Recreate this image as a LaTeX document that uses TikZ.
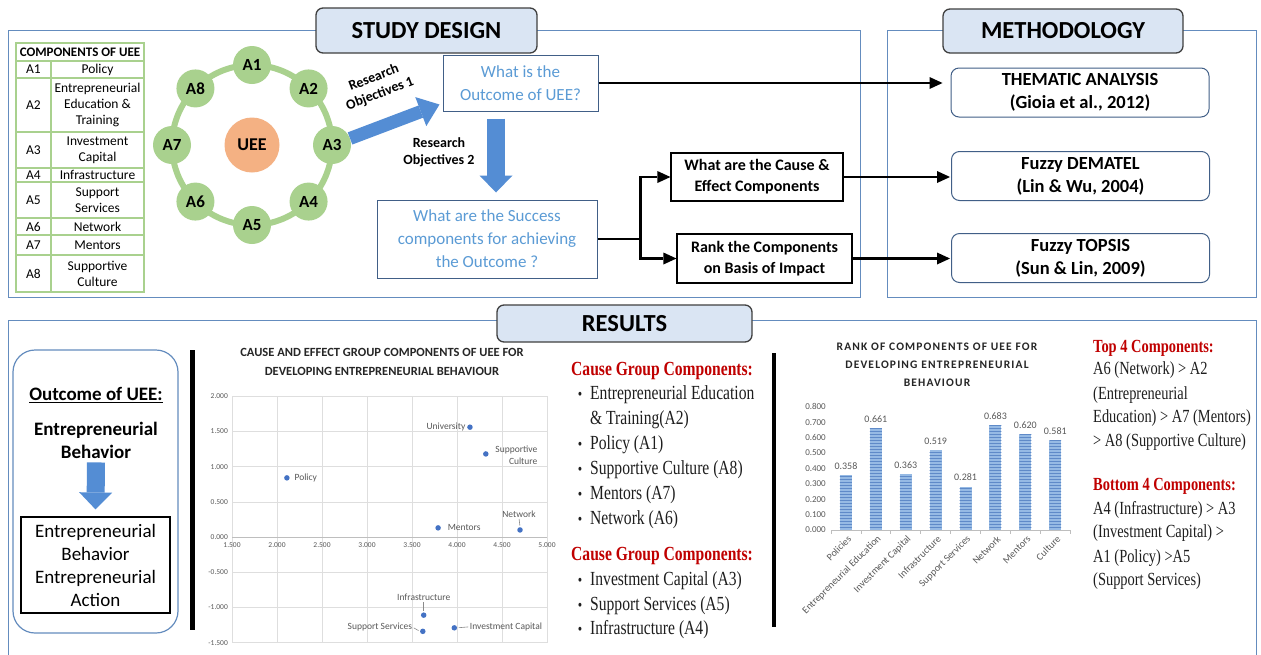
\documentclass[tikz,border=0pt]{standalone}
\usepackage{fontspec}
\setmainfont{Carlito}
\newfontfamily\tnr[FakeStretch=0.78]{Liberation Serif}
\usetikzlibrary{arrows.meta,patterns,calc}

\definecolor{frameblue}{RGB}{100,140,190}
\definecolor{hdrfill}{RGB}{218,229,243}
\definecolor{ringgreen}{RGB}{169,209,142}
\definecolor{ueeorange}{RGB}{244,177,131}
\definecolor{qblue}{RGB}{91,155,213}
\definecolor{boxedge}{RGB}{65,95,135}
\definecolor{arrowblue}{RGB}{84,141,212}
\definecolor{redhead}{RGB}{192,0,0}
\definecolor{gridgray}{RGB}{222,222,222}
\definecolor{axisgray}{RGB}{190,190,190}
\definecolor{ticktext}{RGB}{89,89,89}
\definecolor{ptblue}{RGB}{68,114,196}
\definecolor{barblue}{RGB}{150,186,228}
\definecolor{barline}{RGB}{95,138,200}
\definecolor{bodytext}{RGB}{30,30,30}

\newcommand\setfs[2]{\fontsize{#1}{#2}\selectfont}

\begin{document}
\begin{tikzpicture}[x=1pt,y=-1pt,
  frame/.style={draw=frameblue, line width=1pt},
  hdr/.style={draw=black!75, line width=1.3pt, fill=hdrfill, rounded corners=7pt, inner sep=0pt, font=\bfseries\setfs{24.5}{28}},
  tbl/.style={draw=ringgreen, line width=1.1pt},
  tbltxt/.style={inner sep=0pt, align=center, font=\setfs{13.5}{16}},
  compc/.style={circle, fill=ringgreen, minimum size=38pt, inner sep=0pt, font=\bfseries\setfs{17}{20}},
  ueec/.style={circle, fill=ueeorange, minimum size=55pt, inner sep=0pt, font=\bfseries\setfs{18}{20}},
  qbox/.style={draw=boxedge, line width=1pt, align=center, inner sep=0pt, text=qblue, font=\setfs{17}{23}},
  bbox/.style={draw=black, line width=1.2pt, align=center, inner sep=0pt, font=\bfseries\setfs{16}{21}},
  mbox/.style={draw=boxedge, line width=1pt, rounded corners=8pt, align=center, inner sep=0pt, minimum width=258pt, minimum height=49pt, font=\bfseries\setfs{18.5}{23}},
  rolbl/.style={align=center, inner sep=0pt, font=\bfseries\setfs{14}{17}},
  conn/.style={line width=2.8pt, -{Triangle[length=13pt,width=12pt,line width=0pt]}},
  blockarr/.style={draw=arrowblue, line width=13pt, -{Triangle[length=20pt,width=31pt,line width=0pt]}},
  blockarrv/.style={draw=arrowblue, line width=18pt, -{Triangle[length=17pt,width=33pt,line width=0pt]}},
  gridl/.style={draw=gridgray, line width=0.6pt},
  axisl/.style={draw=axisgray, line width=0.8pt},
  tick/.style={font=\setfs{7.5}{9}, text=ticktext, inner sep=1pt},
  plbl/.style={font=\setfs{9.5}{12}, text=ticktext, inner sep=0.5pt},
  leader/.style={draw=ticktext!70, line width=0.6pt, shorten >=1.5pt, shorten <=1pt},
  pt/.style={circle, fill=ptblue, inner sep=0pt, minimum size=5.5pt},
  ctitle/.style={align=center, inner sep=0pt, font=\bfseries\setfs{12.5}{19}, text=black!85},
  tnrhead/.style={anchor=base west, inner sep=0pt, text=redhead, font=\tnr\bfseries\setfs{20}{24}},
  tnritem/.style={anchor=base west, inner sep=0pt, text=bodytext, font=\tnr\setfs{20}{24}},
  tnrhead2/.style={anchor=base west, inner sep=0pt, text=redhead, font=\tnr\bfseries\setfs{18.5}{22}},
  tnritem2/.style={anchor=base west, inner sep=0pt, text=bodytext, font=\tnr\setfs{18.5}{22}},
  bul/.style={anchor=base, inner sep=0pt, text=bodytext, font=\tnr\setfs{16}{20}}
]
\useasboundingbox (0,0) rectangle (1261,654);
\fill[white] (0,0) rectangle (1261,654);

% ---------- section frames ----------
\draw[frame] (8,30) rectangle (860,297);
\draw[frame] (887,30) rectangle (1256,297);
\draw[frame] (8,660) -- (8,320) -- (1256,320) -- (1256,660);

\node[hdr, minimum width=221pt, minimum height=45pt] (hsd) at (426.5,30.5) {STUDY DESIGN};
\node[hdr, minimum width=240pt, minimum height=44pt] (hmeth) at (1063,31) {METHODOLOGY};
\node[hdr, minimum width=255pt, minimum height=37pt] (hres) at (624.5,323.5) {RESULTS};

% ---------- components table ----------
\draw[tbl] (16,43) rectangle (144,292);
\foreach \yy in {61,78,132,168,182,218,235,255} \draw[tbl] (16,\yy) -- (144,\yy);
\draw[tbl] (51,61) -- (51,292);
\node[inner sep=0pt, font=\bfseries\setfs{13}{15}] (thead) at (80,52) {COMPONENTS OF UEE};
\foreach \id/\name/\ta/\tb in {A1/Policy/61/78, A2/{Entrepreneurial\\Education \&\\Training}/78/132,
    A3/{Investment\\Capital}/132/168, A4/Infrastructure/168/182, A5/{Support\\Services}/182/218,
    A6/Network/218/235, A7/Mentors/235/255, A8/{Supportive\\Culture}/255/292}{
  \node[tbltxt] (id\id) at (33.5,{(\ta+\tb)/2}) {\id};
  \node[tbltxt] (nm\id) at (97.5,{(\ta+\tb)/2}) {\name};
}

% ---------- UEE ring ----------
\node[ueec] (uee) at (252,145) {UEE};
\draw[ringgreen, line width=6pt] (uee.center) circle[radius=80];
\foreach \i in {1,...,8}
  \node[compc] (a\i) at ({252+80*cos(90-45*(\i-1))},{145-80*sin(90-45*(\i-1))}) {A\i};

% ---------- research questions ----------
\node[qbox, minimum width=155pt, minimum height=56pt] (outq) at (520.5,83) {What is the\\Outcome of UEE?};
\node[qbox, minimum width=220pt, minimum height=78pt] (succ) at (487,239) {What are the Success\\components for achieving\\the Outcome ?};
\node[bbox, minimum width=172pt, minimum height=48pt] (cause) at (757,177) {What are the Cause \&\\Effect Components};
\node[bbox, minimum width=175pt, minimum height=49pt] (rank) at (764.5,258.5) {Rank the Components\\on Basis of Impact};

\draw[blockarr] (a3.20) -- ($(outq.south west)+(-3,-7)$);
\node[rolbl, rotate=21] (ro1) at (377,86) {Research\\Objectives 1};
\draw[blockarrv] ($(outq.south)+(-24.5,7)$) -- ($(succ.north)+(9,-7)$);
\node[rolbl] (ro2) at (439,152) {Research\\Objectives 2};

% ---------- methodology ----------
\node[mbox] (them) at (1080,92.5) {THEMATIC ANALYSIS\\(Gioia et al., 2012)};
\node[mbox] (dema) at (1080.5,176) {Fuzzy DEMATEL\\(Lin \& Wu, 2004)};
\node[mbox] (tops) at (1080.5,258) {Fuzzy TOPSIS\\(Sun \& Lin, 2009)};

\draw[conn, shorten >=8pt] (outq.east) -- (outq.east -| them.west);
\draw[line width=2.8pt] (succ.east) -- ++(43,0) coordinate (br);
\draw[conn] (br) |- (cause.west);
\draw[conn] (br) |- (rank.west);
\draw[conn, shorten >=1pt] (cause.east) -- (cause.east -| dema.west);
\draw[conn, shorten >=1pt] (rank.east) -- (rank.east -| tops.west);

% ---------- results: outcome panel ----------
\node[draw=frameblue, line width=1.2pt, rounded corners=22pt, minimum width=165pt, minimum height=283pt] (outbox) at (95.5,491.5) {};
\node[inner sep=0pt, font=\bfseries\setfs{19}{22}] (outttl) at (96,395) {\underline{Outcome of UEE:}};
\node[inner sep=0pt, align=center, font=\bfseries\setfs{19}{23}] (beh) at (96,440) {Entrepreneurial\\Behavior};
\node[draw=black, line width=1.2pt, minimum width=149pt, minimum height=96pt, align=center, inner sep=0pt, font=\setfs{19}{23}] (acts) at (95.5,565) {Entrepreneurial\\Behavior\\Entrepreneurial\\Action};
\draw[blockarrv] ($(beh.south)+(0,4)$) -- ($(acts.north)+(0,-7)$);

% separators
\draw[line width=4.5pt] (192.5,350) -- (192.5,630);
\draw[line width=4.5pt] (774,353) -- (774,627);

% ---------- cause/effect scatter ----------
\node[ctitle] (sctitle) at (382,362) {CAUSE AND EFFECT GROUP COMPONENTS OF UEE FOR\\DEVELOPING ENTREPRENEURIAL BEHAVIOUR};
\begin{scope}[shift={(232,537)}, x=90pt, y=70.4pt]
  \foreach \v in {-1.5,-1,...,2} \draw[gridl] (0,\v) -- (3.5,\v);
  \foreach \u in {0,0.5,...,3.5} \draw[gridl] (\u,-1.5) -- (\u,2);
  \draw[axisl] (0,0) -- (3.5,0);
  \foreach \v/\t [count=\k] in {2/2.000,1.5/1.500,1/1.000,0.5/0.500,0/0.000,-0.5/-0.500,-1/-1.000,-1.5/-1.500}
    \node[tick, anchor=east] (yt\k) at ([xshift=-3pt]0,\v) {\t};
  \foreach \u/\t [count=\k] in {0/1.500,0.5/2.000,1/2.500,1.5/3.000,2/3.500,2.5/4.000,3/4.500,3.5/5.000}
    \node[tick, anchor=north] (xt\k) at ([yshift=-4pt]\u,0) {\t};

  \node[pt] (pUniv) at (2.644,1.56) {};
  \node[pt] (pSC)   at (2.82,1.18) {};
  \node[pt] (pPol)  at (0.61,0.84) {};
  \node[pt] (pMen)  at (2.29,0.13) {};
  \node[pt] (pNet)  at (3.20,0.10) {};
  \node[pt] (pInf)  at (2.13,-1.11) {};
  \node[pt] (pSS)   at (2.12,-1.34) {};
  \node[pt] (pIC)   at (2.47,-1.29) {};

  \node[plbl, anchor=east] (lUniv) at ([xshift=-1pt]pUniv.west) {University};
  \node[plbl, anchor=west, align=right] (lSC) at ([xshift=6pt, yshift=-1pt]pSC.east) {Supportive\\Culture};
  \node[plbl, anchor=west] (lPol) at ([xshift=4pt]pPol.east) {Policy};
  \node[plbl, anchor=west] (lMen) at ([xshift=6pt]pMen.east) {Mentors};
  \node[plbl, anchor=south] (lNet) at ([yshift=9pt, xshift=-1pt]pNet.north) {Network};
  \node[plbl, anchor=south] (lInf) at ([yshift=11pt]pInf.north) {Infrastructure};
  \node[plbl, anchor=east] (lSS) at ([xshift=-7pt, yshift=4pt]pSS.west) {Support Services};
  \node[plbl, anchor=west] (lIC) at ([xshift=12pt, yshift=1pt]pIC.east) {Investment Capital};
  \draw[leader] (lNet.south) -- (pNet.north);
  \draw[leader] (lInf.south) -- (pInf.north);
  \draw[leader] (lSS.east) -- (pSS.west);
  \draw[leader] (lIC.west) -- (pIC.east);
\end{scope}

% ---------- cause / effect groups ----------
\node[tnrhead] (cg1) at (571,375) {Cause Group Components:};
\foreach \yy/\txt/\b [count=\k] in {399/Entrepreneurial Education/1, 424/{\& Training(A2)}/0, 449/Policy (A1)/1,
    474/Supportive Culture (A8)/1, 499/Mentors (A7)/1, 524/Network (A6)/1}{
  \node[tnritem] (ci\k) at (590,\yy) {\txt};
  \ifnum\b=1 \node[bul] (cb\k) at (580,\yy) {•}; \fi
}
\node[tnrhead] (cg2) at (571,560) {Cause Group Components:};
\foreach \yy/\txt [count=\k] in {585/Investment Capital (A3), 610/Support Services (A5), 634/Infrastructure (A4)}{
  \node[tnritem] (ei\k) at (590,\yy) {\txt};
  \node[bul] (eb\k) at (580,\yy) {•};
}

% ---------- ranking bar chart ----------
\node[ctitle, font=\bfseries\setfs{11.5}{18}\addfontfeature{LetterSpace=10}] (bctitle) at (937,365) {RANK OF COMPONENTS OF UEE FOR\\DEVELOPING ENTREPRENEURIAL\\BEHAVIOUR};
\begin{scope}[shift={(831,530)}, x=29.9pt, y=154pt]
  \foreach \v/\n [count=\i] in {0.358/Policies, 0.661/Entrepreneurial Education, 0.363/Investment Capital,
      0.519/Infrastructure, 0.281/Support Services, 0.683/Network, 0.620/Mentors, 0.581/Culture}{
    \fill[barblue] (\i-0.7,0) rectangle (\i-0.3,\v);
    \fill[pattern=horizontal lines, pattern color=barline] (\i-0.7,0) rectangle (\i-0.3,\v);
    \node[plbl, font=\setfs{10}{12}, anchor=south] (bv\i) at ([yshift=5pt]\i-0.5,\v) {\v};
    \node[plbl, font=\setfs{10}{12}, rotate=45, anchor=east] (bc\i) at ([xshift=4pt, yshift=-7pt]\i-0.5,0) {\n};
  }
  \draw[axisl] (0,0) -- (8,0);
  \foreach \k in {0,...,8} \draw[axisl] (\k,0) -- ([yshift=-4pt]\k,0);
  \foreach \v [count=\k] in {0.000,0.100,0.200,0.300,0.400,0.500,0.600,0.700,0.800}
    \node[tick, font=\setfs{9}{11}, anchor=east] (by\k) at ([xshift=-4pt]0,\v) {\v};
\end{scope}

% ---------- top / bottom four ----------
\node[tnrhead2] (top4) at (1093,352) {Top 4 Components:};
\foreach \yy/\txt [count=\k] in {374/{A6 (Network) > A2}, 399/(Entrepreneurial, 422/{Education) > A7 (Mentors)}, 446/{> A8 (Supportive Culture)}}
  \node[tnritem2] (tl\k) at (1093,\yy) {\txt};
\node[tnrhead2] (bot4) at (1093,490) {Bottom 4 Components:};
\foreach \yy/\txt [count=\k] in {514/{A4 (Infrastructure) > A3}, 537/{(Investment Capital) >}, 562/{A1 (Policy) >A5}, 585/(Support Services)}
  \node[tnritem2] (bl\k) at (1093,\yy) {\txt};

\end{tikzpicture}
\end{document}
